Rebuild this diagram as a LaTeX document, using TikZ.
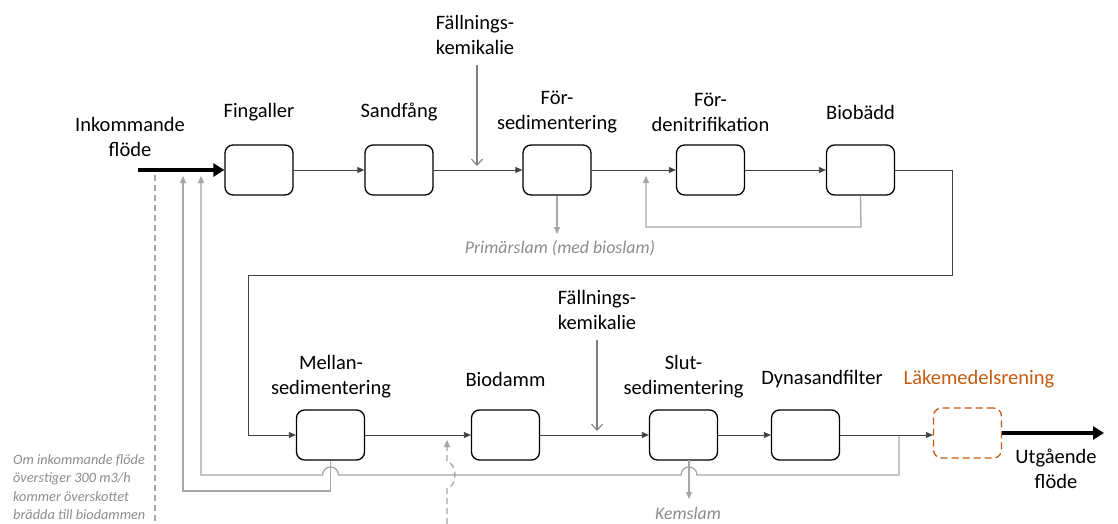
\documentclass[tikz,border=0pt]{standalone}
\usepackage{fontspec}
\setmainfont{Carlito}
\usetikzlibrary{arrows.meta}
\definecolor{lgray}{HTML}{A6A6A6}
\definecolor{tgray}{HTML}{8C8C8C}
\definecolor{cgray}{HTML}{7F7F7F}
\definecolor{flow}{HTML}{404040}
\definecolor{orng}{HTML}{C55A11}
\tikzset{
  proc/.style={draw=black, line width=1.3pt, rounded corners=8pt, minimum width=68pt, minimum height=50pt, inner sep=0pt},
  lbl/.style={font=\fontsize{20.5}{25}\selectfont, align=center, inner sep=0pt},
  glbl/.style={font=\fontsize{17.8}{21}\selectfont\itshape, text=tgray, align=center, inner sep=0pt},
  flowline/.style={draw=flow, line width=0.8pt, -{Triangle[length=7pt,width=6pt]}},
  thick arrow/.style={draw=black, line width=4pt, -{Triangle[length=11pt,width=13pt]}},
  grayline/.style={draw=lgray, line width=1.3pt},
  grayarrow/.style={grayline, -{Triangle[length=7pt,width=6pt]}},
  chemarrow/.style={draw=cgray, line width=1.1pt, -{Straight Barb[length=6pt,width=11pt]}},
  dashline/.style={draw=lgray, line width=1.3pt, dash pattern=on 6pt off 4pt}
}
\begin{document}
\begin{tikzpicture}[x=1pt,y=-1pt]
\useasboundingbox (0,0) rectangle (1118,524);
% boxes
\node[proc] (fg) at (259,170) {};
\node[proc] (sf) at (399,170) {};
\node[proc] (fs) at (557,170) {};
\node[proc] (fd) at (710.5,170) {};
\node[proc] (bb) at (860.5,170) {};
\node[proc] (ms) at (330.5,435) {};
\node[proc] (bd) at (505.5,435) {};
\node[proc] (ss) at (683.5,435) {};
\node[proc] (dy) at (805.5,435) {};
\node[proc, draw=orng, dash pattern=on 7pt off 4pt] (lr) at (967.5,433) {};
% labels
\node[lbl] (lin) at (130,137) {Inkommande\\flöde};
\node[lbl] at (259,112) {Fingaller};
\node[lbl] at (399,112) {Sandfång};
\node[lbl] at (557,112) {För-\\sedimentering};
\node[lbl] at (710.5,112) {För-\\denitrifikation};
\node[lbl] at (860.5,112) {Biobädd};
\node[lbl] at (475,35) {Fällnings-\\kemikalie};
\node[lbl] at (597,310) {Fällnings-\\kemikalie};
\node[lbl] at (331,377) {Mellan-\\sedimentering};
\node[lbl] at (505.5,379) {Biodamm};
\node[lbl] at (683.5,377) {Slut-\\sedimentering};
\node[lbl] at (822,379) {Dynasandfilter};
\node[lbl, text=orng] at (979,379) {Läkemedelsrening};
\node[lbl] at (1056,469) {Utgående\\flöde};
\node[glbl] (prim) at (560,248) {Primärslam (med bioslam)};
\node[glbl] (kem) at (688,513) {Kemslam};
\node[font=\fontsize{14.3}{18.3}\selectfont\itshape, text=tgray, align=left, inner sep=0pt, anchor=west] (note) at (13,487) {Om inkommande flöde\\överstiger 300 m3/h\\kommer överskottet\\brädda till biodammen};
% coordinates
\coordinate (in0) at (138,170);
\coordinate (out1) at (1104,433);
\coordinate (c1a) at (477,65);
\coordinate (c1b) at (477,166);
\coordinate (c2a) at (597,340);
\coordinate (c2b) at (597,431);
% main flow
\draw[thick arrow] (in0) -- (fg.west);
\draw[flowline] (fg.east) -- (sf.west);
\draw[flowline] (sf.east) -- (fs.west);
\draw[flowline] (fs.east) -- (fd.west);
\draw[flowline] (fd.east) -- (bb.west);
\draw[flowline] (bb.east) -- (952,170) -- (952,275) -- (248,275) -- (248,435) -- (ms.west);
\draw[flowline] (ms.east) -- (bd.west);
\draw[flowline] (bd.east) -- (ss.west);
\draw[flowline] (ss.east) -- (dy.west);
\draw[flowline] (dy.east) -- (lr.west |- dy.east);
\draw[thick arrow] (lr.east) -- (out1);
% chemicals
\draw[chemarrow] (c1a) -- (c1b);
\draw[chemarrow] (c2a) -- (c2b);
% sludge
\draw[grayarrow] (fs.south) -- (557,234);
\draw[grayarrow] (bb.south) -- (861,227) -- (646,227) -- (646,176);
\draw[grayarrow] (689,460) -- (689,499);
% returns
\draw[grayarrow] (ms.south) -- (330.5,491) -- (183,491) -- (183,176);
\draw[grayarrow] (899,436) -- (899,475) -- (697,475) arc[start angle=0,end angle=180,radius=8pt] -- (338.5,475) arc[start angle=0,end angle=180,radius=8pt] -- (201,475) -- (201,176);
% overflow
\draw[dashline] (155,175) -- (155,524);
\draw[dashline, -{Triangle[length=7pt,width=6pt]}] (447,524) -- (447,488) arc[start angle=-90,end angle=90,x radius=8pt,y radius=13pt] -- (447,440);
\end{tikzpicture}
\end{document}
